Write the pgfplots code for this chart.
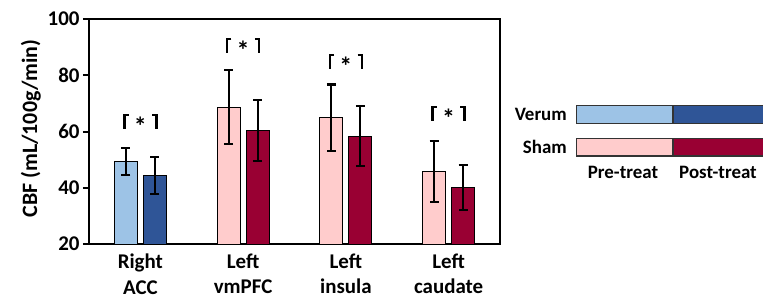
\documentclass[border=0pt]{standalone}
\usepackage{fontspec}
\setmainfont{Carlito}[BoldFont={Carlito Bold}]
\usepackage{pgfplots}
\pgfplotsset{compat=1.18}
\definecolor{lblue}{RGB}{157,195,230}
\definecolor{dblue}{RGB}{47,85,151}
\definecolor{lpink}{RGB}{255,204,204}
\definecolor{dred}{RGB}{153,0,51}
\newcommand{\sigbr}[2]{%
  \draw[line width=2.4bp] (axis cs:#1-0.115,#2) -- (axis cs:#1-0.155,#2) -- (axis cs:#1-0.155,#2-5);
  \draw[line width=2.4bp] (axis cs:#1+0.115,#2) -- (axis cs:#1+0.155,#2) -- (axis cs:#1+0.155,#2-5);
  \node[anchor=north,inner sep=0pt,font=\fontsize{26}{26}\selectfont\bfseries] at (axis cs:#1,#2-0.6) {*};
}
\begin{document}
\begin{tikzpicture}
\begin{axis}[
  scale only axis, width=411bp, height=225bp,
  xmin=-0.5, xmax=3.5, ymin=20, ymax=100,
  ytick={20,40,60,80,100},
  xtick={0,1,2,3},
  xticklabels={Right\\ACC, Left\\vmPFC, Left\\insula, Left\\caudate},
  xticklabel style={align=center, font=\fontsize{21}{26}\selectfont\bfseries},
  yticklabel style={font=\fontsize{21}{21}\selectfont\bfseries},
  /pgf/number format/assume math mode=true,
  x tick style={draw=none},
  ytick style={line width=2bp, black},
  tick align=outside, major tick length=6bp,
  ytick pos=left,
  axis line style={line width=2bp},
  ylabel={CBF (mL/100g/min)},
  ylabel style={font=\fontsize{22}{22}\selectfont\bfseries, xshift=3bp},
  ybar, bar width=23bp,
  every axis plot/.append style={draw=black, line width=1bp,
    error bars/y dir=both, error bars/y explicit,
    error bars/error bar style={line width=2.2bp, black},
    error bars/error mark options={rotate=90, mark size=4.5bp, line width=2.2bp, black}},
]
\addplot[fill=lblue, bar shift=-14.5bp] coordinates {(0,49.3) +- (0,4.7)};
\addplot[fill=dblue, bar shift=14.5bp] coordinates {(0,44.3) +- (0,6.6)};
\addplot[fill=lpink, bar shift=-14.5bp] coordinates {(1,68.7) +- (0,13.2) (2,64.9) +- (0,11.8) (3,45.7) +- (0,10.8)};
\addplot[fill=dred, bar shift=14.5bp] coordinates {(1,60.3) +- (0,10.9) (2,58.3) +- (0,10.7) (3,40.2) +- (0,8.0)};
\sigbr{0}{65.9}
\sigbr{1}{92.8}
\sigbr{2}{87.2}
\sigbr{3}{68.8}
\end{axis}
% legend
\begin{scope}[line width=1.2bp]
\filldraw[fill=lblue, draw=black!80] (487.7bp,120.7bp) rectangle (584bp,138.3bp);
\filldraw[fill=dblue, draw=black!80] (584bp,120.7bp) rectangle (680bp,138.3bp);
\filldraw[fill=lpink, draw=black!80] (487.7bp,88bp) rectangle (584bp,105.3bp);
\filldraw[fill=dred, draw=black!80] (584bp,88bp) rectangle (680bp,105.3bp);
\end{scope}
\begin{scope}[every node/.style={font=\fontsize{19}{19}\selectfont\bfseries, inner sep=0pt}]
\node[anchor=east] at (478bp,129.5bp) {Verum};
\node[anchor=east] at (478bp,96.7bp) {Sham};
\node at (534bp,72bp) {Pre-treat};
\node at (629bp,72bp) {Post-treat};
\end{scope}
\pgfresetboundingbox
\path[use as bounding box] (-89bp,-55bp) rectangle (674bp,244bp);
\end{tikzpicture}
\end{document}
